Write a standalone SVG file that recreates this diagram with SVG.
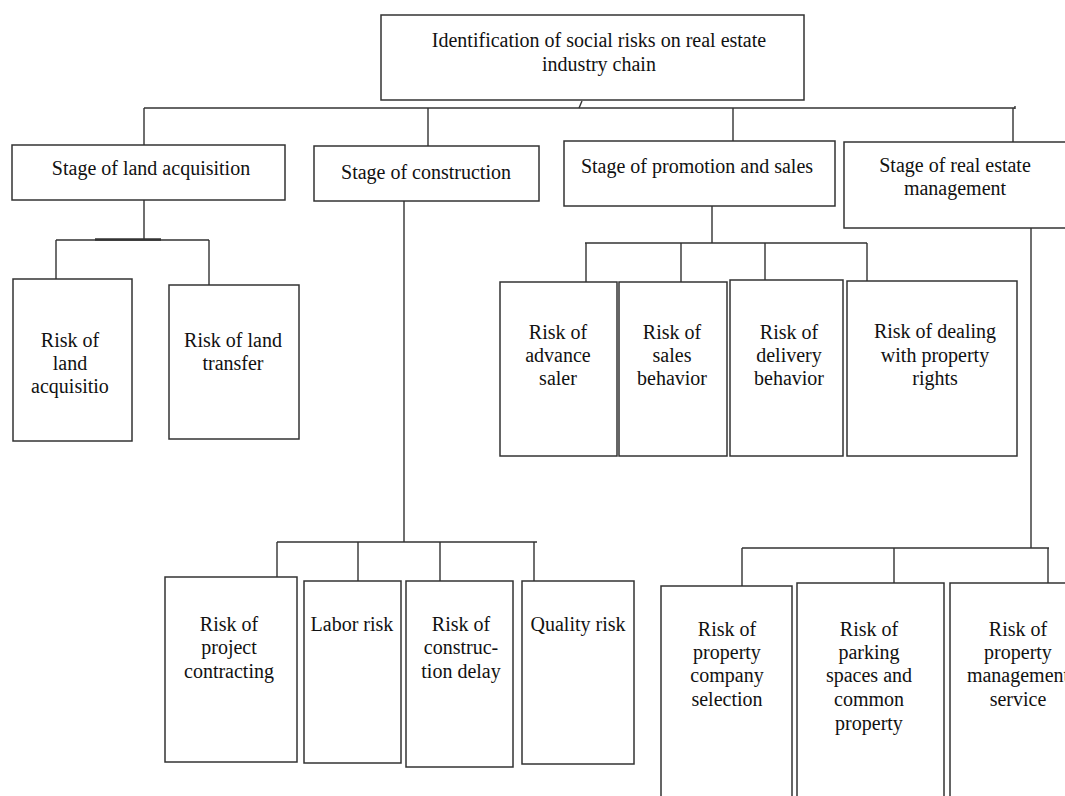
<svg xmlns="http://www.w3.org/2000/svg" width="1065" height="796" viewBox="0 0 1065 796">
  <style>
    .box { fill: #ffffff; stroke: #333333; stroke-width: 1.5; }
    .wire { fill: none; stroke: #333333; stroke-width: 1.4; }
    .label { font-family: "Liberation Serif", "Times New Roman", serif; font-size: 20px; fill: #111111; text-anchor: middle; }
  </style>
  <rect width="1065" height="796" fill="#ffffff"/>

  <!-- connectors -->
  <g id="connectors" class="wire">
    <!-- root to stages -->
    <path d="M582 101 L579 108"/>
    <path d="M144 108 H1015"/>
    <path d="M144 108 V145 M428 108 V146 M733 108 V141 M1013 108 V142"/>
    <path d="M1015 106 V109"/>
    <!-- land acquisition -->
    <path d="M144 200 V240 M56 240 H209 M56 240 V279 M209 240 V285"/>
    <path d="M95 239.5 H161" stroke-width="2.6"/>
    <!-- construction -->
    <path d="M404 201 V542 M277 542 H537 M277 542 V577 M358 542 V581 M440 542 V581 M534 542 V581"/>
    <!-- promotion and sales -->
    <path d="M712 206 V243 M585 243 H867 M586 243 V282 M681 243 V282 M765 243 V280 M867 243 V281"/>
    <!-- real estate management -->
    <path d="M1031 228 V548 M742 548 H1049 M742 548 V586 M894 548 V583 M1048 548 V583"/>
  </g>

  <g id="root">
    <rect class="box" x="381" y="15" width="423" height="85"/>
    <text class="label" x="599" y="47">Identification of social risks on real estate</text>
    <text class="label" x="599" y="71">industry chain</text>
  </g>

  <g id="stage-land">
    <rect class="box" x="12" y="145" width="273" height="55"/>
    <text class="label" x="151" y="175">Stage of land acquisition</text>
  </g>
  <g id="stage-construction">
    <rect class="box" x="314" y="146" width="225" height="55"/>
    <text class="label" x="426" y="179">Stage of construction</text>
  </g>
  <g id="stage-promotion">
    <rect class="box" x="564" y="141" width="271" height="65"/>
    <text class="label" x="697" y="173">Stage of promotion and sales</text>
  </g>
  <g id="stage-management">
    <rect class="box" x="844" y="142" width="224" height="86"/>
    <text class="label" x="955" y="172">Stage of real estate</text>
    <text class="label" x="955" y="195">management</text>
  </g>

  <g id="risk-land-acquisition">
    <rect class="box" x="13" y="279" width="119" height="162"/>
    <text class="label" x="70" y="347">Risk of</text>
    <text class="label" x="70" y="370">land</text>
    <text class="label" x="70" y="393">acquisitio</text>
  </g>
  <g id="risk-land-transfer">
    <rect class="box" x="169" y="285" width="130" height="154"/>
    <text class="label" x="233" y="347">Risk of land</text>
    <text class="label" x="233" y="370">transfer</text>
  </g>

  <g id="risk-advance-sale">
    <rect class="box" x="500" y="282" width="117" height="174"/>
    <text class="label" x="558" y="339">Risk of</text>
    <text class="label" x="558" y="362">advance</text>
    <text class="label" x="558" y="385">saler</text>
  </g>
  <g id="risk-sales-behavior">
    <rect class="box" x="619" y="282" width="108" height="174"/>
    <text class="label" x="672" y="339">Risk of</text>
    <text class="label" x="672" y="362">sales</text>
    <text class="label" x="672" y="385">behavior</text>
  </g>
  <g id="risk-delivery-behavior">
    <rect class="box" x="730" y="280" width="113" height="176"/>
    <text class="label" x="789" y="339">Risk of</text>
    <text class="label" x="789" y="362">delivery</text>
    <text class="label" x="789" y="385">behavior</text>
  </g>
  <g id="risk-property-rights">
    <rect class="box" x="847" y="281" width="170" height="175"/>
    <text class="label" x="935" y="338">Risk of dealing</text>
    <text class="label" x="935" y="362">with property</text>
    <text class="label" x="935" y="385">rights</text>
  </g>

  <g id="risk-project-contracting">
    <rect class="box" x="165" y="577" width="132" height="185"/>
    <text class="label" x="229" y="631">Risk of</text>
    <text class="label" x="229" y="654">project</text>
    <text class="label" x="229" y="678">contracting</text>
  </g>
  <g id="risk-labor">
    <rect class="box" x="304" y="581" width="97" height="182"/>
    <text class="label" x="352" y="631">Labor risk</text>
  </g>
  <g id="risk-construction-delay">
    <rect class="box" x="406" y="581" width="107" height="186"/>
    <text class="label" x="461" y="631">Risk of</text>
    <text class="label" x="461" y="654">construc-</text>
    <text class="label" x="461" y="678">tion delay</text>
  </g>
  <g id="risk-quality">
    <rect class="box" x="522" y="581" width="112" height="183"/>
    <text class="label" x="578" y="631">Quality risk</text>
  </g>

  <g id="risk-company-selection">
    <rect class="box" x="661" y="586" width="131" height="230"/>
    <text class="label" x="727" y="636">Risk of</text>
    <text class="label" x="727" y="659">property</text>
    <text class="label" x="727" y="682">company</text>
    <text class="label" x="727" y="706">selection</text>
  </g>
  <g id="risk-parking-common">
    <rect class="box" x="797" y="583" width="147" height="233"/>
    <text class="label" x="869" y="636">Risk of</text>
    <text class="label" x="869" y="659">parking</text>
    <text class="label" x="869" y="682">spaces and</text>
    <text class="label" x="869" y="706">common</text>
    <text class="label" x="869" y="730">property</text>
  </g>
  <g id="risk-management-service">
    <rect class="box" x="950" y="583" width="140" height="233"/>
    <text class="label" x="1018" y="636">Risk of</text>
    <text class="label" x="1018" y="659">property</text>
    <text class="label" x="1018" y="682">management</text>
    <text class="label" x="1018" y="706">service</text>
  </g>
</svg>
